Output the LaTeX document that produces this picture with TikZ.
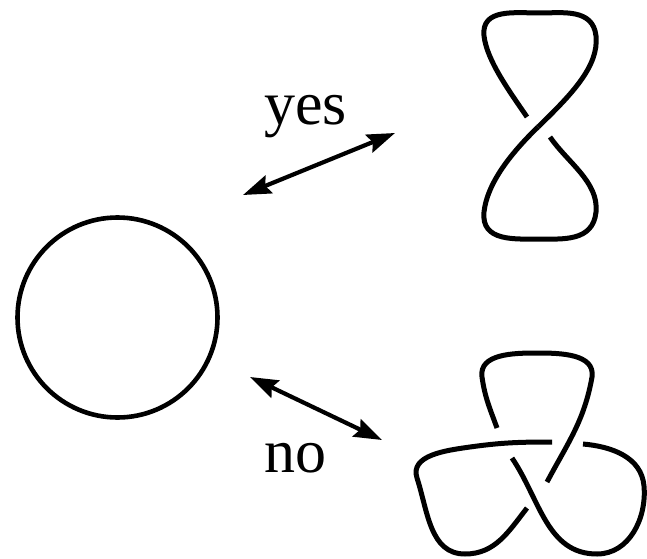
\documentclass[tikz,border=0pt]{standalone}
\usepackage{fontspec}
\setmainfont{Liberation Serif}
\usetikzlibrary{arrows.meta}

\begin{document}
\begin{tikzpicture}[x=1pt,y=1pt,line width=4.6pt,
  strand/.style={line width=5pt},
  link/.style={line width=4.2pt,{Stealth[length=28pt,width=19pt,inset=4pt]}-{Stealth[length=28pt,width=19pt,inset=4pt]}},
  lbl/.style={font=\fontsize{62}{70}\selectfont,inner sep=0pt,anchor=base west}]
\useasboundingbox (0,0) rectangle (647,558);
\node[draw,circle,minimum size=200pt,inner sep=0pt] (unknot) at (117.5,240.5) {};
% twisted loop
\begin{scope}
\draw[strand] (538,431) .. controls (572,464) and (599,492) .. (596,522)
  .. controls (593,550) and (562,545) .. (540,545)
  .. controls (515,545) and (481,550) .. (484,522)
  .. controls (487,497) and (510,466) .. (527,441);
\draw[strand] (550,421) .. controls (567,396) and (599,376) .. (596,346)
  .. controls (593,316) and (562,319) .. (540,319)
  .. controls (515,319) and (481,316) .. (484,346)
  .. controls (487,374) and (510,404) .. (538,431);
\end{scope}
% trefoil
\begin{scope}
\draw[strand] (527,50) to[out=-128,in=0] (465,4) to[out=180,in=-72] (417,80)
  to[out=108,in=188] (470,111) to[out=8,in=180] (552,116);
\draw[strand] (583,114) to[out=-5,in=95] (644,72) to[out=-85,in=0] (597,4)
  to[out=180,in=-56] (512,100);
\draw[strand] (497,130) to[out=110,in=-82] (482,181) to[out=98,in=180] (537,205)
  to[out=0,in=82] (592,181) to[out=-100,in=62] (547,76);
\end{scope}
\node[lbl] (yes) at (262,433) {yes};
\node[lbl] (no) at (262,86) {no};
\coordinate (yesA) at (243,363);
\coordinate (yesB) at (395,425);
\coordinate (noA) at (250,181);
\coordinate (noB) at (382,118);
\draw[link] (yesA) -- (yesB);
\draw[link] (noA) -- (noB);
\end{tikzpicture}
\end{document}
